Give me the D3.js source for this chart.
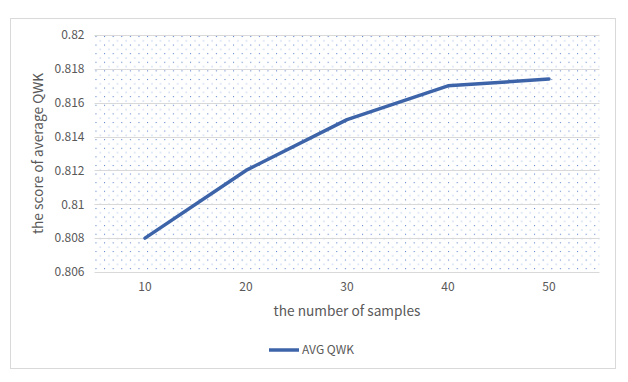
<!DOCTYPE html>
<html><head><meta charset="utf-8">
<script src="https://cdn.jsdelivr.net/npm/d3@7"></script>
<style>body{margin:0;background:#fff}svg{display:block}</style>
</head><body><svg id="c" width="628" height="382"></svg>
<script>
const categories = ["10","20","30","40","50"];
const avgQWK = [0.808, 0.812, 0.815, 0.817, 0.8174];
const yTicks = [0.806,0.808,0.81,0.812,0.814,0.816,0.818,0.82];
const seriesName = "AVG QWK";
const xTitle = "the number of samples";
const yTitle = "the score of average QWK";

const svg = d3.select("#c");
const font = "'Noto Sans CJK SC','Microsoft YaHei',sans-serif";
const m = {l:94.5, r:599.5, t:35, b:272};

const defs = svg.append("defs");
const pat = defs.append("pattern").attr("id","dots").attr("patternUnits","userSpaceOnUse")
  .attr("width",8.6).attr("height",8.6).attr("x",m.l).attr("y",m.t);
pat.append("rect").attr("x",1).attr("y",1).attr("width",1).attr("height",1).attr("fill","#4472c4");
pat.append("rect").attr("x",5.3).attr("y",5.3).attr("width",1).attr("height",1).attr("fill","#8faadc");

svg.append("rect").attr("x",10.5).attr("y",18.5).attr("width",605).attr("height",350)
  .attr("fill","#fff").attr("stroke","#d9d9d9");

const x = d3.scaleBand().domain(categories).range([m.l,m.r]);
const y = d3.scaleLinear().domain([0.806,0.82]).range([m.b,m.t]);

svg.append("rect").attr("x",m.l).attr("y",m.t).attr("width",m.r-m.l).attr("height",m.b-m.t)
  .attr("fill","url(#dots)");

svg.append("g").selectAll("line").data(yTicks).join("line")
  .attr("x1",m.l).attr("x2",m.r).attr("y1",d=>Math.round(y(d))+0.5).attr("y2",d=>Math.round(y(d))+0.5)
  .attr("stroke","#d9d9d9").attr("stroke-width",1);

const yAxis = svg.append("g").attr("transform",`translate(${m.l},0)`)
  .call(d3.axisLeft(y).tickValues(yTicks).tickSize(0).tickPadding(10).tickFormat(d=>d3.format("")(+d.toFixed(3))));
yAxis.select(".domain").remove();
yAxis.selectAll("text").attr("font-family",font).attr("font-size",12).attr("fill","#595959");

const xAxis = svg.append("g").attr("transform",`translate(0,${m.b})`)
  .call(d3.axisBottom(x).tickSize(0).tickPadding(10));
xAxis.select(".domain").remove();
xAxis.selectAll("text").attr("font-family",font).attr("font-size",12).attr("fill","#595959");

const line = d3.line().x((d,i)=>x(categories[i])+x.bandwidth()/2).y(d=>y(d));
svg.append("path").datum(avgQWK).attr("d",line).attr("fill","none")
  .attr("stroke","#3d64a8").attr("stroke-width",3.5).attr("stroke-linejoin","round").attr("stroke-linecap","round");

svg.append("text").attr("x",(m.l+m.r)/2).attr("y",316).attr("text-anchor","middle")
  .attr("font-family",font).attr("font-size",13.7).attr("fill","#595959").text(xTitle);
svg.append("text").attr("transform",`translate(43,${(m.t+m.b)/2}) rotate(-90)`).attr("text-anchor","middle")
  .attr("font-family",font).attr("font-size",13.7).attr("fill","#595959").text(yTitle);

const lg = svg.append("g").attr("transform","translate(269,350)");
lg.append("line").attr("x1",0).attr("x2",30).attr("stroke","#3d64a8").attr("stroke-width",3.5);
lg.append("text").attr("x",33).attr("dy","0.35em").attr("font-family",font).attr("font-size",12)
  .attr("fill","#595959").text(seriesName);
</script></body></html>
